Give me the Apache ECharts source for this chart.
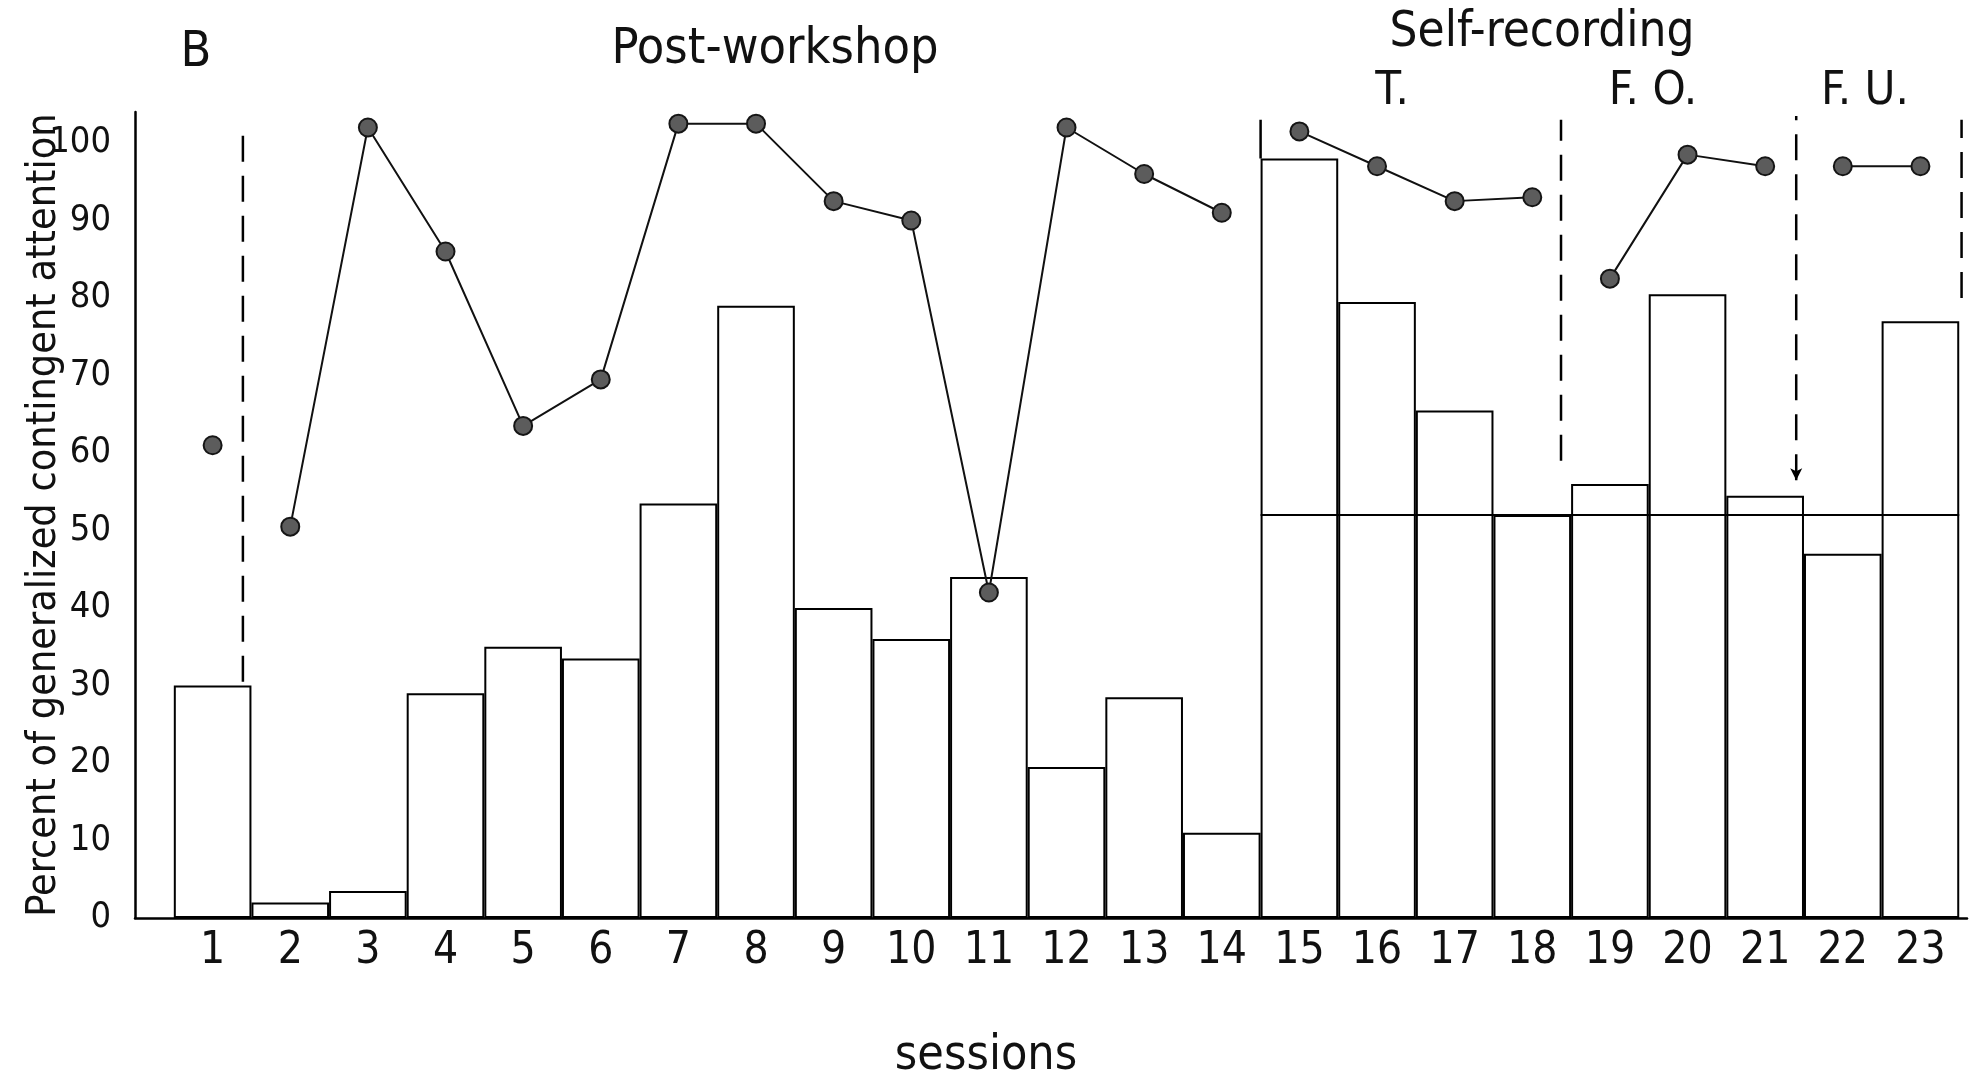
<!DOCTYPE html>
<html><head><meta charset="utf-8">
<script src="https://cdn.jsdelivr.net/npm/echarts@6/dist/echarts.min.js"></script>
<style>html,body{margin:0;padding:0;background:#fff;} #c{width:1979px;height:1082px;}</style>
</head><body><div id="c"></div>
<script>
// ---- data ----
const sessions = [1, 2, 3, 4, 5, 6, 7, 8, 9, 10, 11, 12, 13, 14, 15, 16, 17, 18, 19, 20, 21, 22, 23];
const barValues = [30, 2, 3.5, 29, 35, 33.5, 53.5, 79, 40, 36, 44, 19.5, 28.5, 11, 98, 79.5, 65.5, 52, 56, 80.5, 54.5, 47, 77];
// percent of generalized contingent attention (dots), per phase
const baselineDots = [61];                                                      // session 1
const postWorkshopDots = [50.5, 102, 86, 63.5, 69.5, 102.5, 102.5, 92.5, 90, 42, 102, 96, 91]; // sessions 2-14
const selfTDots = [101.5, 97, 92.5, 93];                                        // sessions 15-18
const selfFODots = [82.5, 98.5, 97];                                            // sessions 19-21
const selfFUDots = [97, 97];                                                    // sessions 22-23
const phaseFirstSession = [1, 2, 15, 19, 22];
const yTicks = [0, 10, 20, 30, 40, 50, 60, 70, 80, 90, 100];
// phase dividers (position in session units, y extent in percent)
const dashedDividerX = [1.39, 18.37, 21.4, 23.53];
const dashedDividerTop = [102, 103, 103.5, 103];
const dashedDividerBottom = [30.5, 59, 56.5, 80];
const solidDividerX = 14.5, solidDividerTop = 103, solidDividerBottom = 98;
const referenceLevel = 52, referenceFrom = 14.5, referenceTo = 23.5;

// ---- build ----
const FONT = "'DejaVu Sans Condensed','Liberation Sans Narrow','DejaVu Sans',sans-serif";
const dotStyle = { color: '#5c5c5c', borderColor: '#151515', borderWidth: 2 };
function dotSeries(values, first) {
  return {
    type: 'line', data: values.map((v, i) => [first + i, v]),
    symbol: 'circle', symbolSize: 18, showSymbol: true,
    lineStyle: { color: '#111', width: 2 }, itemStyle: dotStyle, z: 5, animation: false
  };
}
const series = [
  {
    type: 'bar', data: sessions.map((s, i) => [s, barValues[i]]), barWidth: '100%',
    itemStyle: { color: '#fff', borderColor: '#000', borderWidth: 2 }, z: 2, animation: false
  },
  dotSeries(baselineDots, phaseFirstSession[0]),
  dotSeries(postWorkshopDots, phaseFirstSession[1]),
  dotSeries(selfTDots, phaseFirstSession[2]),
  dotSeries(selfFODots, phaseFirstSession[3]),
  dotSeries(selfFUDots, phaseFirstSession[4]),
  {
    type: 'line', data: [[referenceFrom, referenceLevel], [referenceTo, referenceLevel]],
    symbol: 'none', lineStyle: { color: '#000', width: 2 }, z: 4, animation: false
  },
  {
    type: 'line', data: [[solidDividerX, solidDividerBottom], [solidDividerX, solidDividerTop]],
    symbol: 'none', lineStyle: { color: '#000', width: 2.5 }, z: 4, animation: false
  }
];
dashedDividerX.forEach((x, i) => {
  const withArrow = i === 2;
  series.push({
    type: 'line', clip: false,
    data: [
      withArrow ? { value: [x, dashedDividerBottom[i]], symbol: 'arrow', symbolSize: [9, 12], symbolRotate: 180 }
                : { value: [x, dashedDividerBottom[i]], symbol: 'none' },
      { value: [x, dashedDividerTop[i]], symbol: 'none' }
    ],
    showSymbol: true,
    itemStyle: { color: '#000' },
    lineStyle: { color: '#000', width: 2.5, type: [26, 14] }, z: 4, animation: false
  });
});

const chart = echarts.init(document.getElementById('c'), null, { renderer: 'canvas' });
chart.setOption({
  backgroundColor: '#fff',
  animation: false,
  grid: { left: 135, right: 12, top: 112, bottom: 164, containLabel: false, outerBoundsMode: 'none' },
  xAxis: {
    type: 'value', min: 0, max: 23.6, interval: 1,
    axisLine: { onZero: false, lineStyle: { color: '#000', width: 2.5 } },
    axisTick: { show: false },
    splitLine: { show: false },
    axisLabel: {
      color: '#111', fontSize: 44, fontFamily: FONT, margin: 12,
      formatter: v => (sessions.indexOf(v) >= 0 ? String(v) : '')
    }
  },
  yAxis: {
    type: 'value', min: 0, max: 104, interval: 10,
    name: 'Percent of generalized contingent attention',
    nameLocation: 'middle', nameGap: 70, nameMoveOverlap: false,
    nameTextStyle: { color: '#111', fontSize: 41, fontFamily: FONT },
    axisLine: { show: true, onZero: false, lineStyle: { color: '#000', width: 2.5 } },
    axisTick: { show: false },
    splitLine: { show: false },
    axisLabel: {
      color: '#111', fontSize: 36, fontFamily: FONT, margin: 24,
      formatter: v => (yTicks.indexOf(v) >= 0 ? String(v) : '')
    }
  },
  graphic: [
    { type: 'text', x: 196, y: 53, style: { text: 'B', font: "50px " + FONT, fill: '#111', textAlign: 'center', textVerticalAlign: 'middle' } },
    { type: 'text', x: 775, y: 50, style: { text: 'Post-workshop', font: "50px " + FONT, fill: '#111', textAlign: 'center', textVerticalAlign: 'middle' } },
    { type: 'text', x: 1542, y: 33, style: { text: 'Self-recording', font: "49px " + FONT, fill: '#111', textAlign: 'center', textVerticalAlign: 'middle' } },
    { type: 'text', x: 1392, y: 92, style: { text: 'T.', font: "47px " + FONT, fill: '#111', textAlign: 'center', textVerticalAlign: 'middle' } },
    { type: 'text', x: 1653, y: 92, style: { text: 'F. O.', font: "47px " + FONT, fill: '#111', textAlign: 'center', textVerticalAlign: 'middle' } },
    { type: 'text', x: 1865, y: 92, style: { text: 'F. U.', font: "47px " + FONT, fill: '#111', textAlign: 'center', textVerticalAlign: 'middle' } },
    { type: 'text', x: 986, y: 1057, style: { text: 'sessions', font: "48px " + FONT, fill: '#111', textAlign: 'center', textVerticalAlign: 'middle' } }
  ],
  series: series
});
</script></body></html>
